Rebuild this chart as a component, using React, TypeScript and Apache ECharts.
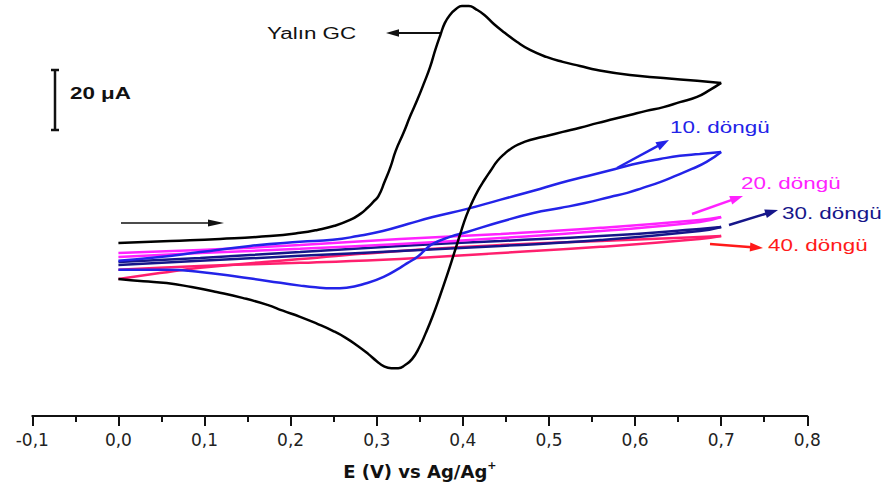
import React, { useEffect, useRef } from "react";
import * as echarts from "echarts";

// Potential E (V) vs current (µA). Each cycle: forward scan then reverse scan.
const yalinForward: [number, number][] = [
  [0.0, 9.3], [0.06, 10.0], [0.118, 10.7], [0.176, 11.7], [0.211, 12.8], [0.231, 13.8],
  [0.251, 15.2], [0.269, 17.2], [0.281, 19.3], [0.289, 21.3], [0.296, 23.4], [0.302, 25.4],
  [0.309, 30.2], [0.316, 35.4], [0.322, 40.9], [0.331, 47.0], [0.339, 52.9], [0.347, 58.3],
  [0.355, 64.2], [0.362, 69.7], [0.368, 75.5], [0.374, 80.7], [0.379, 84.7], [0.385, 87.5],
  [0.392, 89.5], [0.399, 90.6], [0.407, 90.6], [0.415, 89.5], [0.425, 87.5], [0.436, 84.4],
  [0.449, 81.3], [0.463, 78.2], [0.478, 75.5], [0.497, 73.1], [0.516, 71.4], [0.536, 70.0],
  [0.556, 68.6], [0.594, 66.9], [0.633, 65.9], [0.672, 64.9], [0.7, 64.2],
];
const yalinReverse: [number, number][] = [
  [0.7, 64.2], [0.687, 61.8], [0.672, 59.4], [0.652, 57.6], [0.633, 55.9], [0.613, 54.6],
  [0.594, 53.2], [0.575, 51.8], [0.556, 50.4], [0.536, 48.8], [0.516, 47.4], [0.497, 46.0],
  [0.478, 44.6], [0.466, 43.3], [0.457, 41.9], [0.448, 39.8], [0.44, 37.4], [0.432, 34.0],
  [0.425, 30.9], [0.418, 27.5], [0.411, 23.4], [0.404, 18.6], [0.397, 12.4], [0.39, 5.9],
  [0.381, -2.3], [0.373, -9.2], [0.365, -15.7], [0.357, -21.5], [0.349, -26.7], [0.341, -30.5],
  [0.333, -32.5], [0.325, -33.6], [0.317, -33.6], [0.308, -32.9], [0.3, -31.2], [0.29, -28.7],
  [0.278, -26.0], [0.264, -23.2], [0.249, -20.8], [0.231, -18.4], [0.211, -16.0], [0.191, -13.9],
  [0.173, -11.9], [0.144, -9.5], [0.114, -7.5], [0.085, -5.8], [0.056, -4.4], [0.029, -3.8],
  [0.0, -3.0],
];
const cycle10Forward: [number, number][] = [
  [0.0, 3.2], [0.048, 4.5], [0.095, 6.2], [0.153, 8.3], [0.211, 9.7], [0.249, 10.4],
  [0.278, 11.7], [0.307, 13.4], [0.336, 15.8], [0.365, 18.2], [0.405, 21.0], [0.443, 24.1],
  [0.482, 27.2], [0.513, 29.9], [0.545, 32.3], [0.577, 34.7], [0.606, 36.8], [0.629, 38.1],
  [0.652, 39.2], [0.675, 39.8], [0.7, 40.5],
];
const cycle10Reverse: [number, number][] = [
  [0.7, 40.5], [0.683, 37.1], [0.666, 34.7], [0.649, 32.6], [0.629, 30.2], [0.609, 28.2],
  [0.591, 26.5], [0.571, 25.1], [0.542, 23.0], [0.513, 21.3], [0.482, 19.6], [0.443, 16.5],
  [0.405, 13.1], [0.385, 11.4], [0.365, 9.0], [0.356, 6.9], [0.347, 4.5], [0.336, 2.5],
  [0.327, 0.8], [0.308, -2.3], [0.289, -4.4], [0.265, -6.0], [0.249, -6.2], [0.229, -5.9],
  [0.211, -5.3], [0.173, -3.7], [0.133, -2.0], [0.095, -0.6], [0.056, 0.1], [0.0, 0.1],
];
const cycle20Forward: [number, number][] = [
  [0.0, 5.9], [0.095, 6.9], [0.211, 8.6], [0.327, 10.7], [0.444, 12.4], [0.56, 14.5],
  [0.675, 17.2], [0.7, 18.2],
];
const cycle20Reverse: [number, number][] = [
  [0.7, 18.2], [0.675, 16.5], [0.56, 13.4], [0.444, 11.0], [0.327, 9.0], [0.211, 7.3],
  [0.095, 5.9], [0.0, 4.5],
];
const cycle30Forward: [number, number][] = [
  [0.0, 2.8], [0.095, 4.2], [0.211, 6.2], [0.327, 8.3], [0.444, 10.0], [0.56, 11.7],
  [0.675, 14.1], [0.7, 14.8],
];
const cycle30Reverse: [number, number][] = [
  [0.7, 14.8], [0.675, 13.4], [0.56, 10.3], [0.444, 8.3], [0.327, 6.6], [0.211, 4.9],
  [0.095, 3.2], [0.0, 1.8],
];
const cycle40Forward: [number, number][] = [
  [0.0, -3.0], [0.048, -1.0], [0.095, 0.8], [0.211, 3.8], [0.327, 6.6], [0.444, 8.6],
  [0.56, 10.0], [0.675, 11.4], [0.7, 11.7],
];
const cycle40Reverse: [number, number][] = [
  [0.7, 11.7], [0.675, 10.7], [0.56, 8.0], [0.444, 5.9], [0.327, 3.8], [0.211, 2.5],
  [0.095, 1.4], [0.0, 0.1],
];

const xTickLabels = ["-0,1", "0,0", "0,1", "0,2", "0,3", "0,4", "0,5", "0,6", "0,7", "0,8"];

const curves = [
  { name: "40. döngü", color: "#ff1f6e", fwd: cycle40Forward, rev: cycle40Reverse },
  { name: "30. döngü", color: "#16168a", fwd: cycle30Forward, rev: cycle30Reverse },
  { name: "20. döngü", color: "#ff22ff", fwd: cycle20Forward, rev: cycle20Reverse },
  { name: "10. döngü", color: "#2323e8", fwd: cycle10Forward, rev: cycle10Reverse },
  { name: "Yalın GC", color: "#000000", fwd: yalinForward, rev: yalinReverse },
];

const FONT = '"Liberation Sans", Arial, sans-serif';

function arrow(x1: number, y1: number, x2: number, y2: number, color: string, w = 2.5, head = 13, half = 4.5) {
  const dx = x2 - x1, dy = y2 - y1;
  const L = Math.hypot(dx, dy);
  const ux = dx / L, uy = dy / L;
  const bx = x2 - ux * head, by = y2 - uy * head;
  const px = -uy, py = ux;
  return [
    { type: "line", shape: { x1, y1, x2: bx + ux * 2, y2: by + uy * 2 }, style: { stroke: color, lineWidth: w } },
    {
      type: "polygon",
      shape: { points: [[x2, y2], [bx + px * half, by + py * half], [bx - px * half, by - py * half]] },
      style: { fill: color },
    },
  ];
}

function label(text: string, x: number, y: number, color: string, bold = false) {
  return {
    type: "text",
    x,
    y,
    scaleX: 1.4,
    style: {
      text,
      fill: color,
      fontSize: 16,
      fontFamily: FONT,
      fontWeight: bold ? "bold" : "normal",
      textAlign: "left",
      textVerticalAlign: "middle",
      align: "left",
      verticalAlign: "middle",
    },
  };
}

export default function App() {
  const ref = useRef<HTMLDivElement>(null);
  useEffect(() => {
    if (!ref.current) return;
    const chart = echarts.init(ref.current, undefined, { renderer: "svg" });
    const series: any[] = [];
    curves.forEach((c) => {
      [c.fwd, c.rev].forEach((d) => {
        series.push({
          type: "line",
          name: c.name,
          data: d,
          showSymbol: false,
          symbol: "none",
          smooth: 0.5,
          lineStyle: { color: c.color, width: 2.5 },
          itemStyle: { color: c.color },
        });
      });
    });
    const graphic: any[] = [
      label("Yalın GC", 267, 33, "#111111"),
      ...arrow(440, 33, 386, 33, "#111111", 2, 13, 3.8),
      ...arrow(121, 223, 224, 223, "#111111", 1.5, 16, 3.5),
      { type: "line", shape: { x1: 55, y1: 70, x2: 55, y2: 130 }, style: { stroke: "#111", lineWidth: 2.5 } },
      { type: "line", shape: { x1: 51, y1: 70, x2: 59, y2: 70 }, style: { stroke: "#111", lineWidth: 2.5 } },
      { type: "line", shape: { x1: 51, y1: 130, x2: 59, y2: 130 }, style: { stroke: "#111", lineWidth: 2.5 } },
      label("20 μA", 70, 93, "#111111", true),
      label("10. döngü", 670, 127, "#2323e8"),
      ...arrow(617, 168, 669, 140, "#2323e8"),
      label("20. döngü", 741, 183, "#ff22ff"),
      ...arrow(692, 214, 743, 196, "#ff22ff"),
      label("30. döngü", 782, 213, "#16168a"),
      ...arrow(729, 225, 778, 210, "#16168a"),
      label("40. döngü", 768, 245, "#ff1a1a"),
      ...arrow(710, 244, 763, 248, "#ff1a1a"),
    ];
    chart.setOption({
      animation: false,
      backgroundColor: "#ffffff",
      grid: { left: 32.3, right: 82.7, top: 1.8, bottom: 79 },
      xAxis: {
        type: "value",
        min: -0.1,
        max: 0.8,
        interval: 0.1,
        name: "E (V) vs Ag/Ag{sup|+}",
        nameLocation: "middle",
        nameGap: 44,
        nameTextStyle: {
          fontFamily: '"DejaVu Sans", sans-serif',
          fontWeight: "bold",
          fontSize: 18,
          color: "#111",
          lineHeight: 22,
          rich: {
            sup: { fontSize: 11, fontWeight: "bold", verticalAlign: "top", lineHeight: 22, color: "#111", fontFamily: '"DejaVu Sans", sans-serif' },
          },
        },
        axisLine: { onZero: false, lineStyle: { color: "#111", width: 2 } },
        axisTick: { show: true, inside: false, length: 10, lineStyle: { color: "#111", width: 2 } },
        minorTick: { show: true, splitNumber: 2, length: 6, lineStyle: { color: "#111", width: 2 } },
        splitLine: { show: false },
        minorSplitLine: { show: false },
        axisLabel: {
          margin: 15,
          fontFamily: '"DejaVu Sans", sans-serif',
          fontSize: 17,
          color: "#222",
          formatter: (_v: number, i: number) => xTickLabels[i] ?? "",
        },
      },
      yAxis: { type: "value", min: -50, max: 92, show: false, splitLine: { show: false } },
      series,
      graphic,
    });
    return () => chart.dispose();
  }, []);
  return <div ref={ref} style={{ position: "fixed", left: 0, top: 0, width: 890, height: 495, background: "#fff" }} />;
}
